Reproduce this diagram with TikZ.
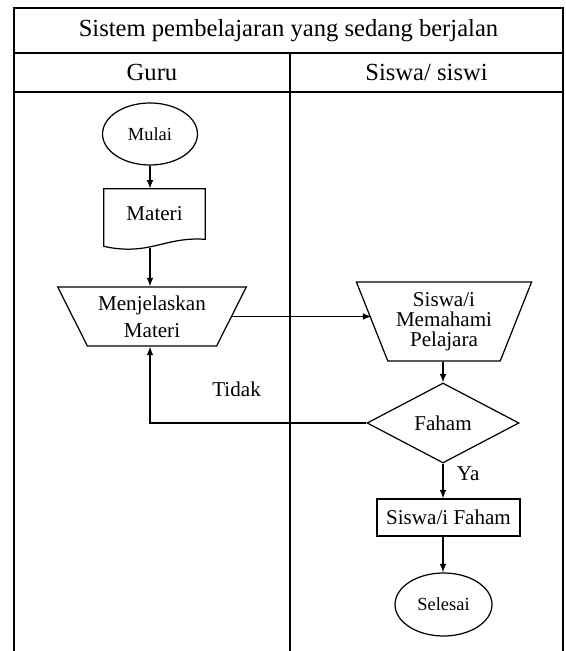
\documentclass[tikz,border=0pt]{standalone}
\usepackage{fontspec}
\setmainfont{Liberation Serif}
\usetikzlibrary{positioning}
\usetikzlibrary{shapes.geometric}
\usetikzlibrary{arrows}
\usetikzlibrary{calc}

\begin{document}
\begin{tikzpicture}[x=0.02cm, y=-0.02cm,
    lane/.style={line width=1pt},
    term/.style={ellipse, draw, line width=0.7pt, inner sep=0pt, font=\fontsize{10.5}{12}\selectfont},
    manual/.style={trapezium, draw, line width=0.7pt, shape border rotate=180, trapezium stretches=true, inner sep=0pt, align=center},
    proc/.style={rectangle, draw, line width=0.7pt, inner sep=0pt, font=\fontsize{12}{14}\selectfont},
    dec/.style={diamond, draw, line width=0.7pt, inner sep=0pt, font=\fontsize{12}{14}\selectfont},
    arr/.style={-latex, line width=0.7pt}]
  \useasboundingbox (0,0) rectangle (565,651);

  % swimlane frame
  \draw[lane] (14,651) -- (14,8) -- (563,8) -- (563,651);
  \draw[lane] (14,53) -- (563,53);
  \draw[lane] (14,92) -- (563,92);
  \draw[lane] (290,53) -- (290,651);
  \node (judul) at (288.5,31) {\fontsize{14}{16}\selectfont Sistem pembelajaran yang sedang berjalan};
  \node (guru) at (152,72) {\fontsize{14}{16}\selectfont Guru};
  \node (siswahd) at (426.5,72) {\fontsize{14}{16}\selectfont Siswa/ siswi};

  % guru lane
  \node[term, minimum width=1.9cm, minimum height=1.24cm] (mulai) at (150,134) {Mulai};
  \node[minimum width=2.02cm, minimum height=1cm, inner sep=0pt, font=\fontsize{12}{14}\selectfont] (materi) at (154.5,214) {Materi};
  \draw[line width=0.7pt] (materi.north west) -- (materi.north east) -- (materi.south east)
    .. controls ($(materi.south)+(10,-3)$) and ($(materi.south)+(-5,17)$) .. ($(materi.south west)+(0,7)$) -- cycle;
  \coordinate (matbot) at ($(mulai.south |- materi.south)+(0,9)$);
  \node[manual, trapezium angle=59.3, minimum width=3.8cm, minimum height=1.18cm, font=\fontsize{12}{15.3}\selectfont] (menj) at (152,316.5) {Menjelaskan\\Materi};

  % siswa lane
  \node[manual, trapezium angle=65.5, minimum width=3.52cm, minimum height=1.58cm, font=\fontsize{12}{11.5}\selectfont] (paham) at (444,321.5) {Siswa/i\\Memahami\\Pelajara};
  \node[dec, minimum width=3.04cm, minimum height=1.6cm] (faham) at (443,423) {Faham};
  \node[proc, minimum width=2.86cm, minimum height=0.74cm] (sfaham) at (448.5,517.5) {Siswa/i Faham};
  \node[term, minimum width=1.94cm, minimum height=1.26cm] (selesai) at (443.5,604.5) {Selesai};

  % arrows
  \draw[arr] (mulai.south) -- (mulai.south |- materi.north);
  \draw[arr] (matbot) -- (matbot |- menj.north);
  \draw[arr] (menj.east) -- (menj.east -| paham.west);
  \draw[arr] (paham.south -| faham.north) -- (faham.north);
  \draw[arr] (faham.south) -- (faham.south |- sfaham.north) node[pos=0.3, right=0.15cm, font=\fontsize{12}{14}\selectfont] (ya) {Ya};
  \draw[arr] (faham.south |- sfaham.south) -- (faham.south |- selesai.north);
  \draw[arr] (faham.west) -| (matbot |- menj.south) node[pos=0.3, above=0.4cm, font=\fontsize{12}{14}\selectfont] (tidak) {Tidak};
\end{tikzpicture}
\end{document}
